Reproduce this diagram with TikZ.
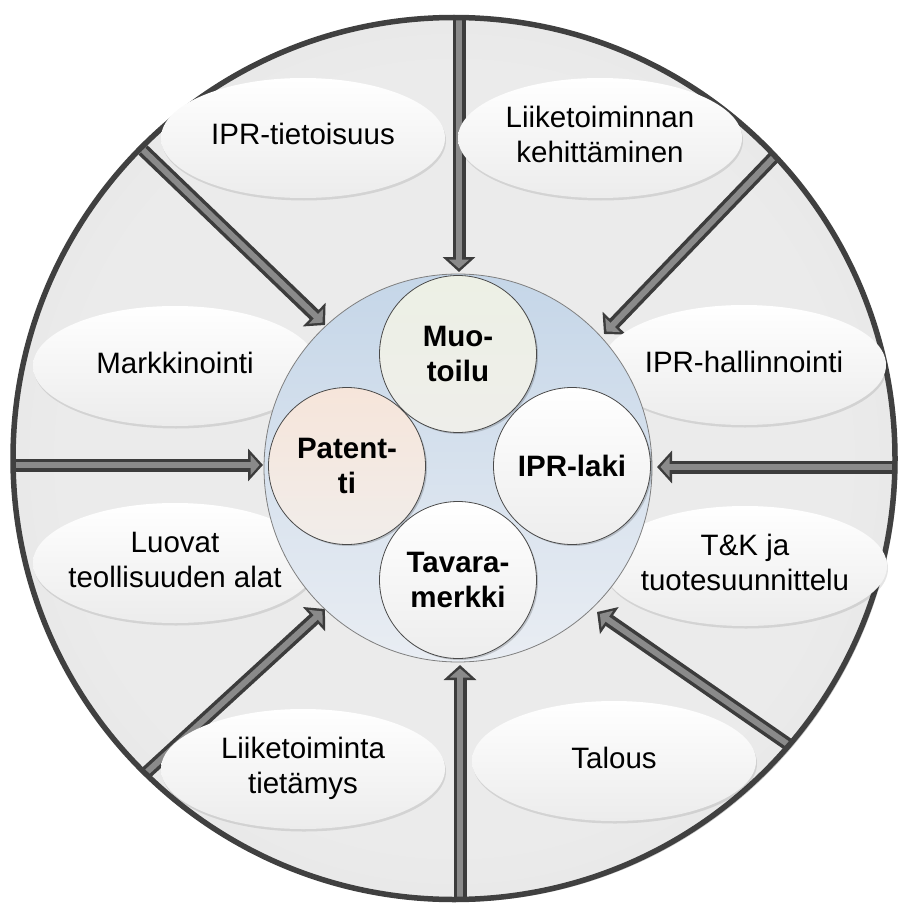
\documentclass[tikz,border=0pt]{standalone}
\usepackage{fontspec}
\setmainfont{Liberation Sans}
\usetikzlibrary{arrows.meta,shapes.geometric,shadows}
\definecolor{ringin}{HTML}{EBEBEB}
\definecolor{ringout}{HTML}{D7D7D7}
\definecolor{rim}{HTML}{404040}
\definecolor{arrowdark}{HTML}{3C3C3C}
\definecolor{arrowmid}{HTML}{8A8A8A}
\definecolor{blueTop}{HTML}{C5D6E8}
\definecolor{blueBot}{HTML}{E9EDF3}
\definecolor{innerline}{HTML}{7F7F7F}
\definecolor{smallline}{HTML}{4A4A4A}
\definecolor{ellbot}{HTML}{ECECEC}
\definecolor{muoTop}{HTML}{EDF0E5}
\definecolor{muoBot}{HTML}{EEEEEA}
\definecolor{patTop}{HTML}{F6E5DA}
\definecolor{patBot}{HTML}{F1EDEA}
\definecolor{whBot}{HTML}{EDEDED}
\pgfdeclareradialshading{ringshade}{\pgfpoint{0bp}{0bp}}{color(0bp)=(ringin); color(22bp)=(ringin); color(50bp)=(ringout)}
\newcommand{\ellabel}[1]{\makebox[0pt]{\begin{tabular}{@{}c@{}}#1\end{tabular}}}
\begin{document}
\begin{tikzpicture}[x=1pt,y=-1pt,
  ringnode/.style={circle, minimum size=882pt, inner sep=0pt, shading=ringshade,
    drop shadow={shadow xshift=2.5pt, shadow yshift=-2.5pt, fill=black, opacity=0.22}},
  arrowout/.style={draw=arrowdark, line width=13pt, -{Triangle[length=15pt, width=32pt]}},
  arrowin/.style={draw=arrowmid, line width=6pt, shorten >=3.5pt, -{Triangle[length=9pt, width=20pt]}},
  ellnode/.style={ellipse, minimum width=284pt, minimum height=120pt, inner sep=0pt,
    top color=white, bottom color=ellbot,
    drop shadow={shadow xshift=1pt, shadow yshift=-2.5pt, fill=black, opacity=0.1},
    font=\fontsize{29.5}{35}\selectfont},
  innernode/.style={circle, minimum size=388pt, inner sep=0pt, draw=innerline, line width=0.8pt,
    top color=blueTop, bottom color=blueBot},
  smallnode/.style={circle, minimum size=157pt, inner sep=0pt, draw=smallline, line width=0.8pt,
    align=center, font=\fontsize{29.5}{35}\selectfont\bfseries,
    drop shadow={shadow xshift=1.5pt, shadow yshift=-1.5pt, fill=black, opacity=0.18}}
]
\useasboundingbox (0,0) rectangle (897,904);
\node[ringnode] (outer) at (454,458.5) {};

% arrow start points on the outer rim
\coordinate (s1) at (459,17);
\coordinate (s2) at (775,156);
\coordinate (s3) at (895,467);
\coordinate (s4) at (789,745);
\coordinate (s5) at (460,899);
\coordinate (s6) at (147,772);
\coordinate (s7) at (13,465);
\coordinate (s8) at (143,150);
% arrow tips at the inner circle
\coordinate (t1) at (459,272);
\coordinate (t2) at (604,334);
\coordinate (t3) at (657,467);
\coordinate (t4) at (597,612);
\coordinate (t5) at (460,665);
\coordinate (t6) at (325,609);
\coordinate (t7) at (263,465);
\coordinate (t8) at (325,325);

\foreach \i in {1,...,8}{
  \draw[arrowout] (s\i) -- (t\i);
  \draw[arrowin] (s\i) -- (t\i);
}

\draw[rim, line width=5.5pt] (outer.center) circle[radius=441pt];

\node[ellnode] (e1) at (303,138) {\ellabel{IPR-tietoisuus}};
\node[ellnode] (e2) at (600,138) {\ellabel{Liiketoiminnan\\kehittäminen}};
\node[ellnode] (e3) at (175,366) {\ellabel{Markkinointi}};
\node[ellnode] (e4) at (744,365) {\ellabel{IPR-hallinnointi}};
\node[ellnode] (e5) at (175,563) {\ellabel{Luovat\\teollisuuden alat}};
\node[ellnode] (e6) at (745,566) {\ellabel{T\&K ja\\tuotesuunnittelu}};
\node[ellnode] (e7) at (303,769) {\ellabel{Liiketoiminta\\tietämys}};
\node[ellnode] (e8) at (614,761) {\ellabel{Talous}};

\node[innernode] (inner) at (458,468) {};

\node[smallnode, top color=muoTop, bottom color=muoBot] (muo) at (458,354) {Muo-\\toilu};
\node[smallnode, top color=patTop, bottom color=patBot] (pat) at (347,466) {Patent-\\ti};
\node[smallnode, top color=white, bottom color=whBot] (ipr) at (572,466) {IPR-laki};
\node[smallnode, top color=white, bottom color=whBot] (tav) at (458,580) {Tavara-\\merkki};
\end{tikzpicture}
\end{document}
